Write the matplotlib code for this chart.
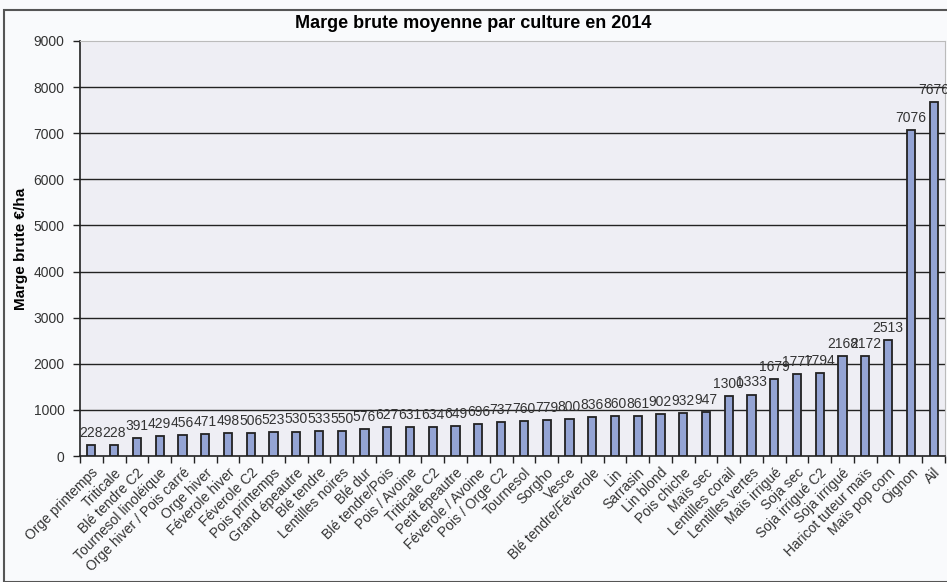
import numpy as np
import matplotlib.pyplot as plt
from matplotlib.patches import Rectangle

# cultures et marge brute (€/ha)
cultures = ["Orge printemps", "Triticale", "Blé tendre C2", "Tournesol linoléique",
            "Orge hiver / Pois carré", "Orge hiver", "Féverole hiver", "Féverole C2",
            "Pois printemps", "Grand épeautre", "Blé tendre", "Lentilles noires",
            "Blé dur", "Blé tendre/Pois", "Pois / Avoine", "Triticale C2",
            "Petit épeautre", "Féverole / Avoine", "Pois / Orge C2", "Tournesol",
            "Sorgho", "Vesce", "Blé tendre/Féverole", "Lin", "Sarrasin", "Lin blond",
            "Pois chiche", "Maïs sec", "Lentilles corail", "Lentilles vertes",
            "Maïs irrigué", "Soja sec", "Soja irrigué C2", "Soja irrigué",
            "Haricot tuteur maïs", "Maïs pop corn", "Oignon", "Ail"]
marge = [228, 228, 391, 429, 456, 471, 498, 506, 523, 530, 533, 550, 576, 627,
         631, 634, 649, 696, 737, 760, 779, 800, 836, 860, 861, 902, 932, 947,
         1300, 1333, 1679, 1777, 1794, 2168, 2172, 2513, 7076, 7676]
yticks = list(range(0, 10000, 1000))

plt.rcParams['font.family'] = ['Liberation Sans', 'DejaVu Sans']

fig = plt.figure(figsize=(9.47, 5.82), dpi=100, facecolor='#f9fafc')
ax = fig.add_axes([80/947, 1-456/582, 865/947, 415/582])
ax.set_facecolor('#eeeef4')

# cadre exterieur
fig.patches.append(Rectangle((4/947, 0), 1, 1-10/582, transform=fig.transFigure,
                             fill=False, edgecolor='#555555', linewidth=1.5))

x = np.arange(len(cultures))
ax.bar(x, marge, width=0.36, color='#94a4d4', edgecolor='#222222', linewidth=1.3, zorder=3)
for xi, v in zip(x, marge):
    ax.text(xi, v + 110, str(v), ha='center', va='bottom', fontsize=10, color='#333333', zorder=4)

ax.set_xlim(-0.5, len(cultures) - 0.5)
ax.set_ylim(0, 9000)
ax.set_yticks(yticks)
ax.set_yticklabels([str(t) for t in yticks], fontsize=10, color='#333333')
for t in yticks[1:-1]:
    ax.axhline(t, color='#222222', linewidth=1, zorder=1)

ax.set_xticks(x)
ax.set_xticklabels(cultures, rotation=45, ha='right', rotation_mode='anchor', fontsize=10,
                   color='#333333')
ax.tick_params(axis='x', which='major', length=0, pad=7)
ax.set_xticks(np.arange(-0.5, len(cultures)), minor=True)
ax.tick_params(axis='x', which='minor', length=5, width=1, color='#222222')
ax.tick_params(axis='y', length=5, width=1, color='#222222', pad=6)

for s in ['top', 'right']:
    ax.spines[s].set_color('#bbbbbb')
for s in ['left', 'bottom']:
    ax.spines[s].set_color('#222222')
    ax.spines[s].set_linewidth(1.2)

ax.set_ylabel('Marge brute €/ha', fontsize=11, fontweight='bold', labelpad=4)
fig.text(0.5, 1-23/582, 'Marge brute moyenne par culture en 2014', ha='center', va='center',
         fontsize=13, fontweight='bold')

fig.savefig('out.png', dpi=100, facecolor=fig.get_facecolor())
